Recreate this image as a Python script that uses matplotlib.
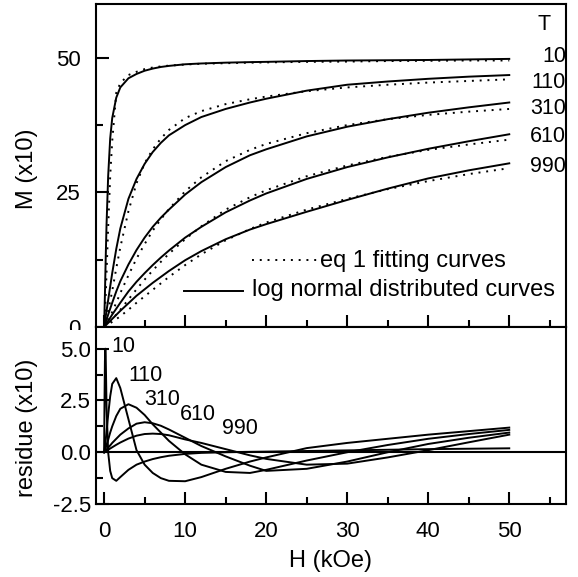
import matplotlib
matplotlib.use('Agg')
import matplotlib.pyplot as plt
from matplotlib.patches import Rectangle
from matplotlib.ticker import MultipleLocator, FormatStrFormatter

plt.rcParams['font.family'] = ['Liberation Sans', 'DejaVu Sans']
plt.rcParams['axes.unicode_minus'] = False

# field values (kOe) for the magnetisation curves
H = [0, 0.1, 0.2, 0.3, 0.5, 0.75, 1, 1.5, 2, 3, 4, 5, 6, 7, 8, 10, 12, 15,
     18, 20, 25, 30, 35, 40, 45, 50]

temps = ['10', '110', '310', '610', '990']

# log normal distributed curves (solid)
M_ln_10 = [0, 6, 13, 19, 28, 35, 38.8, 42.6, 44.5, 46.2, 47.0, 47.6, 48.0, 48.3,
           48.5, 48.8, 48.95, 49.1, 49.2, 49.25, 49.4, 49.5, 49.55, 49.6, 49.7, 49.8]
M_ln_110 = [0, 1, 2, 3, 5, 7.5, 10, 14.5, 18.3, 23.8, 27.5, 30.3, 32.5, 34.2,
            35.6, 37.5, 39.0, 40.5, 41.7, 42.4, 43.9, 45.0, 45.6, 46.1, 46.5, 46.8]
M_ln_310 = [0, 0.45, 0.9, 1.35, 2.3, 3.4, 4.5, 6.6, 8.5, 11.6, 14.3, 16.6, 18.6,
            20.3, 21.8, 24.6, 26.9, 29.7, 31.9, 33.0, 35.4, 37.2, 38.6, 39.8, 40.8, 41.7]
M_ln_610 = [0, 0.23, 0.46, 0.7, 1.15, 1.7, 2.3, 3.4, 4.5, 6.6, 8.4, 10.0, 11.5,
            12.9, 14.2, 16.6, 18.6, 21.3, 23.5, 24.8, 27.5, 29.7, 31.5, 33.1, 34.5, 35.8]
M_ln_990 = [0, 0.15, 0.3, 0.45, 0.75, 1.1, 1.5, 2.25, 3.0, 4.4, 5.8, 7.0, 8.2,
            9.3, 10.4, 12.4, 14.1, 16.3, 18.1, 19.1, 21.4, 23.6, 25.7, 27.6, 29.1, 30.4]

# eq 1 fitting curves (dotted)
M_fit_10 = [0, 2.5, 6, 10, 18.5, 28, 34.5, 43.5, 45.3, 46.8, 47.4, 47.9, 48.2,
            48.4, 48.55, 48.75, 48.9, 49.0, 49.1, 49.15, 49.25, 49.3, 49.4, 49.45, 49.5, 49.5]
M_fit_110 = [0, 0.5, 1.1, 1.7, 3, 4.8, 6.7, 10.9, 14.8, 21.5, 26.7, 30.4, 33.0,
             35.0, 36.6, 38.8, 40.1, 41.4, 42.3, 42.8, 43.8, 44.5, 45.0, 45.4, 45.7, 46.0]
M_fit_310 = [0, 0.25, 0.5, 0.75, 1.3, 2, 2.8, 4.5, 6.3, 9.6, 12.7, 15.4, 17.9,
             20.0, 21.9, 25.2, 27.8, 30.8, 32.9, 34.0, 36.0, 37.5, 38.6, 39.4, 40.0, 40.5]
M_fit_610 = [0, 0.13, 0.27, 0.4, 0.7, 1.05, 1.45, 2.3, 3.2, 5.1, 7.0, 8.8, 10.5,
             12.1, 13.6, 16.3, 18.7, 21.8, 24.1, 25.4, 28.0, 30.0, 31.6, 32.9, 33.9, 34.8]
M_fit_990 = [0, 0.09, 0.18, 0.27, 0.45, 0.7, 0.95, 1.45, 2.0, 3.2, 4.5, 5.7, 6.9,
             8.1, 9.3, 11.5, 13.5, 16.1, 18.2, 19.4, 21.8, 23.8, 25.6, 27.1, 28.4, 29.5]

# residues
H_res = [0, 0.05, 0.1, 0.15, 0.2, 0.3, 0.5, 0.75, 1, 1.5, 2, 3, 4, 5, 6, 7, 8,
         10, 12, 15, 18, 20, 25, 30, 35, 40, 45, 50]
res_10 = [0, 2.5, 4.4, 5.0, 4.6, 2.2, 0.0, -0.9, -1.25, -1.38, -1.2, -0.85, -0.6,
          -0.45, -0.33, -0.24, -0.17, -0.08, -0.03, 0.0, 0.02, 0.03, 0.06, 0.09,
          0.12, 0.15, 0.17, 0.19]
res_110 = [0, 0.1, 0.25, 0.4, 0.6, 1.0, 1.8, 2.7, 3.3, 3.58, 3.1, 1.6, 0.1, -0.6,
           -1.0, -1.25, -1.38, -1.4, -1.2, -0.8, -0.45, -0.25, 0.2, 0.45, 0.65,
           0.85, 1.02, 1.19]
res_310 = [0, 0.04, 0.1, 0.15, 0.2, 0.35, 0.6, 0.95, 1.25, 1.75, 2.1, 2.32, 2.15,
           1.8, 1.35, 0.95, 0.55, -0.1, -0.6, -0.95, -1.0, -0.85, -0.4, 0.0, 0.35,
           0.65, 0.88, 1.08]
res_610 = [0, 0.02, 0.04, 0.06, 0.08, 0.13, 0.22, 0.33, 0.45, 0.65, 0.85, 1.15,
           1.38, 1.45, 1.4, 1.28, 1.1, 0.7, 0.3, -0.2, -0.65, -0.9, -0.8, -0.45,
           0.0, 0.4, 0.7, 0.95]
res_990 = [0, 0.01, 0.02, 0.03, 0.05, 0.07, 0.12, 0.18, 0.24, 0.36, 0.47, 0.66,
           0.8, 0.88, 0.9, 0.88, 0.82, 0.62, 0.45, 0.15, -0.15, -0.32, -0.6, -0.55,
           -0.25, 0.1, 0.48, 0.85]

M_ln = [M_ln_10, M_ln_110, M_ln_310, M_ln_610, M_ln_990]
M_fit = [M_fit_10, M_fit_110, M_fit_310, M_fit_610, M_fit_990]
res = [res_10, res_110, res_310, res_610, res_990]

fig = plt.figure(figsize=(5.78, 5.77), dpi=100)
ax1 = fig.add_axes([0.1661, 0.4333, 0.8131, 0.5598])
ax2 = fig.add_axes([0.1661, 0.1265, 0.8131, 0.3068])

dots = (0, (1, 3))
for m_fit, m_ln in zip(M_fit, M_ln):
    ax1.plot(H, m_fit, color='black', lw=1.4, linestyle=dots)
    ax1.plot(H, m_ln, color='black', lw=1.4)

for r in res:
    ax2.plot(H_res, r, color='black', lw=1.4)
ax2.axhline(0, color='black', lw=1.5)

# T labels on the top panel
ax1.text(54.3, 56.1, 'T', fontsize=15.5, ha='center', va='center')
label_y = [50.2, 45.5, 40.5, 35.3, 29.9]
for t, y in zip(temps, label_y):
    ax1.text(57.0, y, t, fontsize=15.5, ha='right', va='center')

# T labels on the residue panel
res_label_pos = [(0.93, 5.09), (3.0, 3.69), (5.0, 2.53), (9.3, 1.80), (14.5, 1.13)]
for t, (x, y) in zip(temps, res_label_pos):
    ax2.text(x, y, t, fontsize=15.5, ha='left', va='center')

# hand-placed legend
ax1.plot([18.3, 26.4], [12.45, 12.45], color='black', lw=1.4, linestyle=dots)
ax1.text(26.7, 11.15, 'eq 1 fitting curves', fontsize=17, va='baseline')
ax1.plot([9.8, 17.2], [6.7, 6.7], color='black', lw=1.4)
ax1.text(18.3, 5.76, 'log normal distributed curves', fontsize=17, va='baseline')

for ax in (ax1, ax2):
    ax.set_xlim(-1, 57)
    ax.xaxis.set_major_locator(MultipleLocator(10))
    ax.xaxis.set_minor_locator(MultipleLocator(5))
    ax.tick_params(which='both', direction='in', top=False, right=False, width=1.5)
    ax.tick_params(which='major', length=9)
    ax.tick_params(which='minor', length=5)
    for s in ax.spines.values():
        s.set_linewidth(1.5)

ax1.set_ylim(0, 60)
ax1.yaxis.set_major_locator(MultipleLocator(25))
ax1.yaxis.set_minor_locator(MultipleLocator(12.5))
ax1.tick_params(axis='x', labelbottom=False)
ax1.tick_params(axis='y', labelsize=16, pad=11)
ax1.set_ylabel('M (x10)', fontsize=17)
ax1.yaxis.set_label_coords(-0.123, 0.49)

ax2.set_ylim(-2.5, 6.05)
ax2.yaxis.set_major_locator(MultipleLocator(2.5))
ax2.yaxis.set_minor_locator(MultipleLocator(1.25))
ax2.yaxis.set_major_formatter(FormatStrFormatter('%.1f'))
ax2.tick_params(axis='y', labelsize=16, pad=3.5)
ax2.tick_params(axis='x', labelsize=16, pad=12)
ax2.set_ylabel('residue (x10)', fontsize=17)
ax2.yaxis.set_label_coords(-0.123, 0.43)
ax2.set_xlabel('H (kOe)', fontsize=17)
ax2.xaxis.set_label_coords(0.5, -0.26)

# the lower panel hides the bottom part of the top panel's "0" label
fig.patches.append(Rectangle((40 / 578, (577 - 338) / 577), 54 / 578, 8 / 577,
                             transform=fig.transFigure, facecolor='white',
                             edgecolor='none', zorder=1))

fig.savefig('out.png', dpi=100)
